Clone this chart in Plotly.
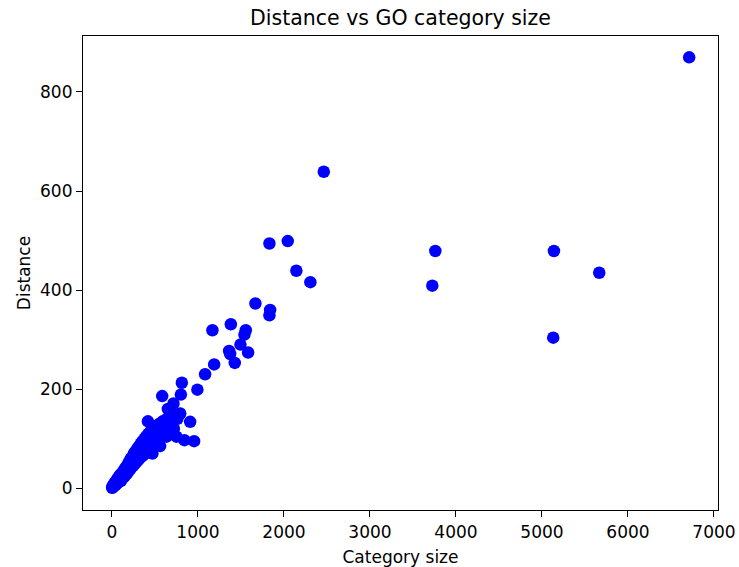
import plotly.graph_objects as go

# Outlying / clearly readable points
outer_size = [6712, 2463, 2044, 1831, 2144, 2307, 3760, 3725, 5139, 5666, 5131,
              1668, 1839, 1831, 1382, 1168, 1556, 1540, 1494, 1362, 1374, 1428,
              1583, 1188, 1083, 993, 812, 801, 584, 715, 793, 418, 909, 842, 955]
outer_dist = [870, 639, 499, 494, 439, 416, 479, 409, 479, 435, 304,
              373, 360, 349, 331, 319, 319, 310, 290, 277, 271, 253,
              274, 250, 230, 199, 213, 189, 186, 171, 151, 135, 134, 97, 95]

# Dense cluster of small categories
dense_size = [2, 5, 8, 10, 12, 15, 18, 20, 22, 25, 28, 30, 33, 35, 38, 40, 42, 45, 48, 50,
              52, 55, 58, 60, 62, 65, 68, 70, 72, 75, 78, 80, 82, 85, 88, 90, 92, 95, 98, 100,
              105, 110, 115, 120, 125, 130, 135, 140, 145, 150, 155, 160, 165, 170, 175, 180,
              185, 190, 195, 200, 205, 210, 215, 220, 225, 230, 240, 245, 250, 255, 260, 270,
              275, 280, 290, 295, 300, 310, 315, 320, 330, 335, 340, 350, 355, 360, 370, 380,
              385, 395, 400, 410, 420, 425, 435, 440, 450, 460, 470, 480, 490, 500, 510, 520,
              533, 540, 550, 560, 575, 590, 600, 620, 634, 640, 660, 680, 700, 720, 749, 760,
              790, 650, 560, 470]
dense_dist = [1, 2, 2, 4, 3, 5, 4, 6, 8, 5, 7, 9, 6, 10, 8, 12, 7, 11, 14, 9,
              13, 10, 16, 12, 18, 11, 15, 20, 13, 17, 22, 14, 19, 24, 16, 21, 26, 18, 23, 28,
              15, 25, 30, 20, 27, 34, 22, 30, 38, 25, 33, 42, 28, 36, 45, 31,
              40, 50, 35, 44, 55, 38, 48, 60, 42, 52, 64, 45, 56, 70, 48, 60,
              75, 52, 64, 80, 56, 68, 85, 60, 72, 90, 64, 76, 95, 66, 80, 100,
              70, 85, 105, 75, 90, 110, 80, 95, 115, 85, 100, 120, 90, 105, 125, 95,
              91, 112, 130, 100, 118, 135, 105, 125, 104, 140, 115, 130, 150, 120, 104, 140,
              150, 160, 85, 70]

x_ticks = [0, 1000, 2000, 3000, 4000, 5000, 6000, 7000]
y_ticks = [0, 200, 400, 600, 800]

xs = dense_size + outer_size
ys = dense_dist + outer_dist

fig = go.Figure()
fig.add_trace(go.Scatter(
    x=xs, y=ys, mode="markers",
    marker=dict(color="#0000ff", size=12.5, line=dict(width=0)),
    showlegend=False,
))

font = "DejaVu Sans, sans-serif"
axis_common = dict(
    showline=True, linecolor="black", linewidth=1.2, mirror=True,
    ticks="outside", ticklen=6, tickwidth=1.2, tickcolor="black",
    showgrid=False, zeroline=False, automargin=False,
    tickfont=dict(family=font, size=17, color="black"),
)
fig.update_layout(
    width=739, height=567,
    margin=dict(l=83, r=21, t=36, b=57),
    paper_bgcolor="white", plot_bgcolor="white",
    title=dict(text="Distance vs GO category size", x=0.5, xref="paper",
               y=1 - 18 / 567, yref="container", yanchor="middle", xanchor="center",
               font=dict(family=font, size=20.5, color="black")),
    xaxis=dict(range=[-337, 7047], tickvals=x_ticks,
               title=dict(text="Category size", standoff=10,
                          font=dict(family=font, size=17, color="black")),
               **axis_common),
    yaxis=dict(range=[-44, 913], tickvals=y_ticks,
               title=dict(text="Distance", standoff=5,
                          font=dict(family=font, size=17, color="black")),
               **axis_common),
)

fig.write_html("out.html")
